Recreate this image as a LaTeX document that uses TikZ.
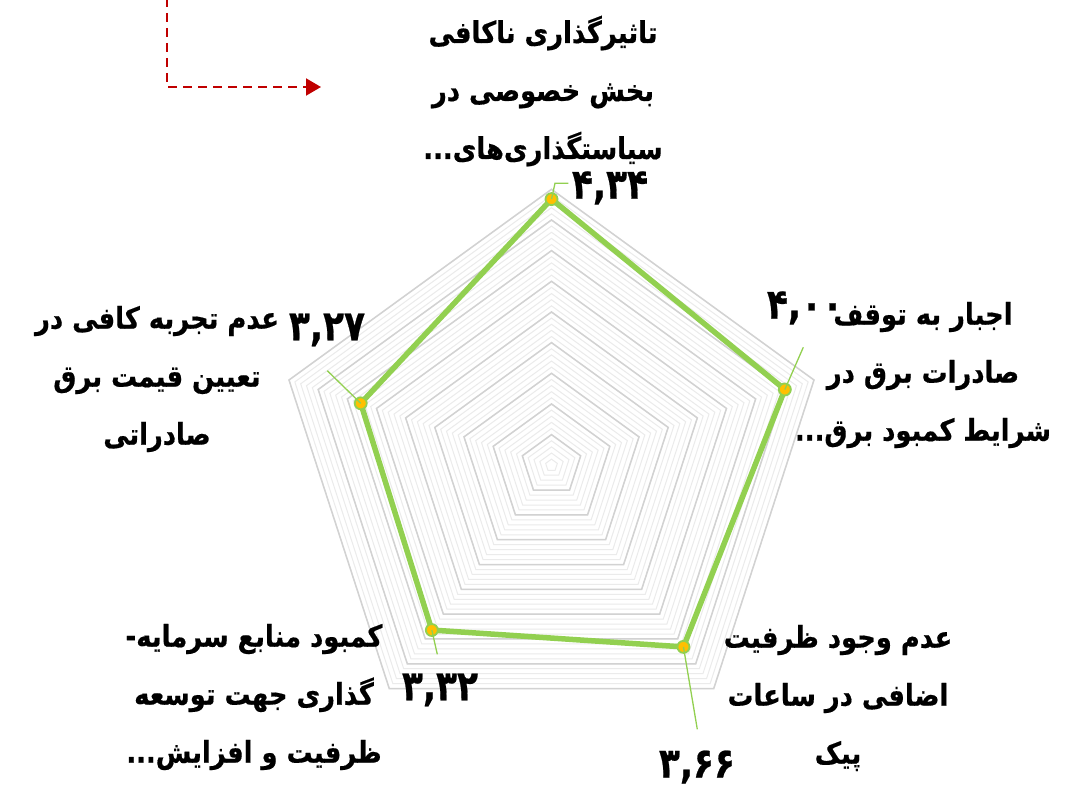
\documentclass[tikz,border=0pt]{standalone}
\usepackage{fontspec}
\usetikzlibrary{arrows.meta}
\TeXXeTstate=1
\newfontfamily\arabicfont[Script=Arabic,FakeStretch=0.86,BoldFeatures={FakeBold=0.5}]{DejaVu Sans}
\newfontfamily\numfont[Script=Arabic,FakeStretch=0.82,BoldFeatures={FakeBold=0.5}]{DejaVu Sans}
\definecolor{gridmaj}{HTML}{D2D2D2}
\definecolor{gridmin}{HTML}{EBEBEB}
\definecolor{dataline}{HTML}{92D050}
\definecolor{markfill}{HTML}{FFC000}
\definecolor{arrowred}{HTML}{C00000}
\tikzset{
  gridmajor/.style={draw=gridmaj,line width=1.5pt,line join=miter},
  gridminor/.style={draw=gridmin,line width=1pt,line join=miter},
  radarline/.style={draw=dataline,line width=5.5pt,line join=round},
  markerdot/.style={circle,fill=markfill,draw=dataline,line width=1.8pt,minimum size=12pt,inner sep=0pt},
  leader/.style={draw=dataline,line width=1.3pt},
  catlabel/.style={align=center,inner sep=0pt,font=\arabicfont\bfseries\fontsize{30}{58}\selectfont},
  vallabel/.style={inner sep=0pt,font=\numfont\bfseries\fontsize{42}{46}\selectfont},
  reddash/.style={draw=arrowred,line width=2pt,dash pattern=on 9pt off 6pt,-{Triangle[length=15pt,width=17pt]}}
}
\begin{document}
\begin{tikzpicture}[x=1pt,y=-1pt]
\useasboundingbox[fill=white] (0,0) rectangle (1076,792);
% red dashed arrow
\coordinate (rs) at (167,-2);
\coordinate (rc) at (167,87);
\coordinate (re) at (321,87);
\draw[reddash] (rs) -- (rc) -- (re);
% radar grid
\begin{scope}[shift={(551.5,465.3)},yscale=-1]
\foreach \k in {1,...,45}{
  \pgfmathsetmacro\rr{\k*276/45}
  \draw[gridminor] (90:\rr) -- (18:\rr) -- (-54:\rr) -- (-126:\rr) -- (162:\rr) -- cycle;
}
\foreach \k in {5,10,...,45}{
  \pgfmathsetmacro\rr{\k*276/45}
  \draw[gridmajor] (90:\rr) -- (18:\rr) -- (-54:\rr) -- (-126:\rr) -- (162:\rr) -- cycle;
}
\coordinate (v1) at (90:{4.34*276/4.5});
\coordinate (v2) at (18:{4.00*276/4.5});
\coordinate (v3) at (-54:{3.66*276/4.5});
\coordinate (v4) at (-126:{3.32*276/4.5});
\coordinate (v5) at (162:{3.27*276/4.5});
\draw[radarline] (v1) -- (v2) -- (v3) -- (v4) -- (v5) -- cycle;
\foreach \i in {1,...,5}{ \node[markerdot] (m\i) at (v\i) {}; }
\end{scope}
% leader lines
\coordinate (l1a) at (555,183.3);
\coordinate (l1b) at (568.3,183.3);
\coordinate (l2) at (803.3,347.3);
\coordinate (l3) at (697.3,729.3);
\coordinate (l4) at (437.3,654.3);
\coordinate (l5) at (327.3,370.7);
\draw[leader] (m1.center) -- (l1a) -- (l1b);
\draw[leader] (m2.center) -- (l2);
\draw[leader] (m3.center) -- (l3);
\draw[leader] (m4.center) -- (l4);
\draw[leader] (m5.center) -- (l5);
% category labels
\node[catlabel] (c1) at (543,91) {\beginR تاثیرگذاری ناکافی\endR\\\beginR بخش خصوصی در\endR\\\beginR سیاستگذاری^^^^200cهای\kern0pt...\endR};
\node[catlabel] (c2) at (923,375) {\beginR اجبار به توقف\endR\\\beginR صادرات برق در\endR\\\beginR شرایط کمبود برق\kern0pt...\endR};
\node[catlabel] (c3) at (838,698) {\beginR عدم وجود ظرفیت\endR\\\beginR اضافی در ساعات\endR\\\beginR پیک\endR};
\node[catlabel] (c4) at (254,697) {\beginR کمبود منابع سرمایه\kern0pt-\endR\\\beginR گذاری جهت توسعه\endR\\\beginR ظرفیت و افزایش\kern0pt...\endR};
\node[catlabel] (c5) at (157,379) {\beginR عدم تجربه کافی در\endR\\\beginR تعیین قیمت برق\endR\\\beginR صادراتی\endR};
% value labels
\node[vallabel] (n1) at (610,188) {۴,۳۴};
\node[vallabel] (n2) at (805,308) {۴,۰۰};
\node[vallabel] (n3) at (697,767) {۳,۶۶};
\node[vallabel] (n4) at (440,690) {۳,۳۲};
\node[vallabel] (n5) at (327,330) {۳,۲۷};
\end{tikzpicture}
\end{document}
